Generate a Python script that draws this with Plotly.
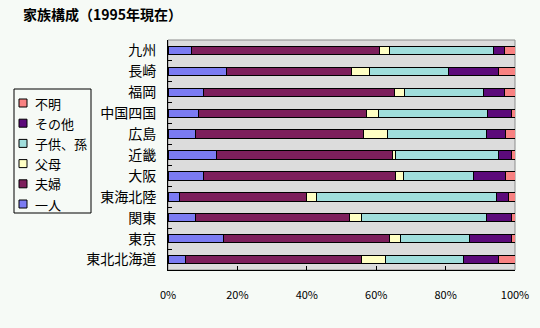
import plotly.graph_objects as go

# Regions, listed top to bottom
regions = ["九州", "長崎", "福岡", "中国四国", "広島", "近畿", "大阪",
           "東海北陸", "関東", "東京", "東北北海道"]

# Share of households by family type (%)
hitori = [6.9, 17.0, 10.1, 8.9, 8.0, 14.1, 10.1, 3.2, 8.0, 16.1, 4.9]
fufu = [54.1, 36.0, 55.1, 48.2, 48.2, 50.7, 55.6, 36.7, 44.4, 47.6, 50.8]
fubo = [2.9, 5.2, 2.9, 3.6, 7.0, 0.9, 2.1, 2.9, 3.3, 3.2, 6.9]
kodomo = [29.9, 22.7, 22.9, 31.4, 28.7, 29.4, 20.1, 52.0, 36.2, 20.1, 22.6]
sonota = [3.2, 14.2, 6.0, 6.9, 5.3, 4.0, 9.3, 3.3, 7.2, 12.1, 9.9]
fumei = [3.0, 4.9, 3.0, 1.0, 2.9, 1.0, 2.9, 2.0, 1.0, 1.0, 4.9]

series_names = ["一人", "夫婦", "父母", "子供、孫", "その他", "不明"]
series_values = [hitori, fufu, fubo, kodomo, sonota, fumei]
series_colors = ["#7b7bf2", "#7d1f5c", "#ffffc4", "#a0dedc", "#5c0a7a", "#f88282"]

FONT = "Noto Sans CJK JP"
PAGE_BG = "#f6faf6"
W, H = 540, 328
ML, MR, MT, MB = 168, 25, 40, 58
PW, PH = W - ML - MR, H - MT - MB


def px_x(x):
    """Page pixel x -> paper coordinate."""
    return (x - ML) / PW


def px_y(y):
    """Page pixel y (from top) -> paper coordinate."""
    return (H - MB - y) / PH


fig = go.Figure()
for name, vals, col in zip(series_names, series_values, series_colors):
    fig.add_trace(go.Bar(
        y=regions, x=vals, name=name, orientation="h",
        marker=dict(color=col, line=dict(color="#000000", width=1)),
    ))

# Boxed legend on the left, last series on top
shapes = [
    dict(type="rect", xref="paper", yref="paper", x0=0, x1=1, y0=0, y1=1,
         line=dict(color="#8c8c8c", width=1), layer="below"),
    dict(type="rect", xref="paper", yref="paper",
         x0=px_x(14), x1=px_x(91), y0=px_y(213), y1=px_y(89),
         line=dict(color="#000000", width=1), fillcolor=PAGE_BG, layer="above"),
]
annotations = []
for i, (name, col) in enumerate(zip(series_names[::-1], series_colors[::-1])):
    cy = 103 + i * 20.2
    shapes.append(dict(type="rect", xref="paper", yref="paper",
                       x0=px_x(19), x1=px_x(27), y0=px_y(cy + 4), y1=px_y(cy - 4),
                       line=dict(color="#000000", width=1), fillcolor=col,
                       layer="above"))
    annotations.append(dict(text=name, xref="paper", yref="paper",
                            x=px_x(33), y=px_y(cy), xanchor="left", yanchor="middle",
                            showarrow=False,
                            font=dict(family=FONT, size=13, color="#000000")))

fig.update_layout(
    width=W, height=H,
    barmode="stack", bargap=0.6,
    paper_bgcolor=PAGE_BG, plot_bgcolor="#dcdcdc",
    margin=dict(l=ML, r=MR, t=MT, b=MB),
    font=dict(family=FONT, size=12, color="#000000"),
    title=dict(text="<b>家族構成（1995年現在）</b>", x=23 / W, xanchor="left",
               y=1 - 15 / H, yanchor="middle",
               font=dict(family=FONT, size=14, color="#000000")),
    showlegend=False,
    shapes=shapes,
    annotations=annotations,
)

fig.update_xaxes(
    range=[0, 100], dtick=20, ticksuffix="%", showgrid=False, zeroline=False,
    showline=True, linecolor="#000000", linewidth=1,
    ticks="inside", ticklen=4, tickcolor="#000000",
    tickfont=dict(family=FONT, size=11, color="#000000"),
    ticklabelstandoff=15,
)
fig.update_yaxes(
    autorange="reversed", showgrid=False,
    showline=True, linecolor="#000000", linewidth=1,
    ticks="inside", tickson="boundaries", ticklen=4, tickcolor="#000000",
    tickfont=dict(family=FONT, size=14, color="#000000"),
    ticklabelstandoff=8,
)

fig.write_html("out.html")
